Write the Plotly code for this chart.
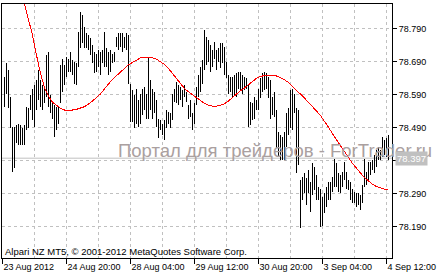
import plotly.graph_objects as go

highs = [
    78.642, 78.684, 78.664, 78.583, 78.492, 78.492, 78.497, 78.502, 78.497, 78.487,
    78.497, 78.553, 78.548, 78.588, 78.608, 78.618, 78.634, 78.664, 78.634, 78.618,
    78.608, 78.709, 78.719, 78.588, 78.563, 78.558, 78.553, 78.553, 78.679, 78.699,
    78.679, 78.704, 78.699, 78.719, 78.694, 78.689, 78.684, 78.780, 78.841, 78.831,
    78.795, 78.775, 78.770, 78.760, 78.740, 78.719, 78.714, 78.724, 78.719, 78.724,
    78.780, 78.730, 78.719, 78.724, 78.714, 78.719, 78.765, 78.775, 78.775, 78.775,
    78.765, 78.775, 78.770, 78.623, 78.603, 78.588, 78.608, 78.573, 78.593, 78.608,
    78.613, 78.593, 78.702, 78.634, 78.608, 78.598, 78.573, 78.517, 78.512, 78.502,
    78.512, 78.543, 78.538, 78.533, 78.593, 78.608, 78.629, 78.618, 78.613, 78.603,
    78.618, 78.598, 78.558, 78.573, 78.533, 78.563, 78.613, 78.649, 78.674, 78.694,
    78.785, 78.765, 78.755, 78.740, 78.724, 78.750, 78.724, 78.730, 78.745, 78.745,
    78.735, 78.689, 78.649, 78.644, 78.644, 78.649, 78.654, 78.659, 78.659, 78.649,
    78.644, 78.639, 78.623, 78.568, 78.563, 78.583, 78.573, 78.608, 78.639, 78.654,
    78.659, 78.654, 78.644, 78.634, 78.583, 78.598, 78.543, 78.477, 78.467, 78.462,
    78.477, 78.533, 78.548, 78.603, 78.608, 78.593, 78.548, 78.543, 78.331, 78.341,
    78.351, 78.336, 78.361, 78.326, 78.381, 78.371, 78.346, 78.310, 78.305, 78.280,
    78.290, 78.310, 78.326, 78.326, 78.341, 78.396, 78.381, 78.351, 78.346, 78.356,
    78.386, 78.356, 78.331, 78.326, 78.305, 78.295, 78.290, 78.290, 78.285, 78.315,
    78.396, 78.356, 78.386, 78.386, 78.391, 78.406, 78.421, 78.432, 78.421, 78.462,
    78.452, 78.457, 78.467,
]
lows = [
    78.553, 78.593, 78.548, 78.487, 78.356, 78.366, 78.442, 78.437, 78.437, 78.437,
    78.437, 78.482, 78.487, 78.543, 78.512, 78.492, 78.543, 78.573, 78.553, 78.543,
    78.563, 78.583, 78.553, 78.533, 78.517, 78.462, 78.482, 78.502, 78.563, 78.598,
    78.618, 78.644, 78.659, 78.659, 78.649, 78.623, 78.618, 78.674, 78.730, 78.745,
    78.730, 78.730, 78.724, 78.709, 78.684, 78.654, 78.659, 78.674, 78.649, 78.684,
    78.674, 78.674, 78.649, 78.659, 78.684, 78.689, 78.735, 78.724, 78.735, 78.719,
    78.730, 78.724, 78.623, 78.507, 78.507, 78.487, 78.502, 78.492, 78.502, 78.528,
    78.543, 78.517, 78.517, 78.543, 78.517, 78.533, 78.492, 78.457, 78.482, 78.467,
    78.452, 78.487, 78.502, 78.487, 78.512, 78.568, 78.563, 78.558, 78.573, 78.553,
    78.583, 78.568, 78.517, 78.522, 78.482, 78.502, 78.558, 78.583, 78.598, 78.623,
    78.664, 78.679, 78.689, 78.659, 78.674, 78.699, 78.664, 78.689, 78.669, 78.684,
    78.649, 78.639, 78.593, 78.598, 78.583, 78.588, 78.583, 78.608, 78.603, 78.593,
    78.603, 78.608, 78.492, 78.497, 78.512, 78.517, 78.543, 78.543, 78.578, 78.598,
    78.603, 78.608, 78.578, 78.517, 78.528, 78.522, 78.427, 78.401, 78.391, 78.391,
    78.391, 78.432, 78.467, 78.487, 78.482, 78.533, 78.351, 78.376, 78.184, 78.270,
    78.290, 78.255, 78.290, 78.235, 78.285, 78.300, 78.270, 78.270, 78.189, 78.191,
    78.230, 78.250, 78.270, 78.270, 78.295, 78.310, 78.310, 78.295, 78.290, 78.310,
    78.331, 78.305, 78.300, 78.270, 78.260, 78.260, 78.250, 78.255, 78.240, 78.260,
    78.310, 78.315, 78.331, 78.346, 78.361, 78.351, 78.371, 78.391, 78.391, 78.401,
    78.406, 78.401, 78.391,
]
ma_idx = [9, 10, 12, 14, 16, 18, 20, 22, 24, 26, 28, 30, 32, 34, 36, 38, 40, 42, 44, 46,
          48, 50, 52, 54, 56, 58, 60, 62, 64, 66, 68, 70, 72, 74, 76, 78, 80, 82, 84, 86,
          88, 90, 92, 94, 96, 98, 100, 102, 104, 106, 108, 110, 112, 114, 116, 118, 120,
          122, 124, 126, 128, 130, 132, 134, 136, 138, 140, 142, 144, 146, 148, 150, 152,
          154, 156, 158, 160, 162, 164, 166, 168, 170, 172, 174, 176, 178, 180, 182, 184,
          186, 188, 190, 192]
ma_val = [78.886, 78.861, 78.815, 78.770, 78.709, 78.654, 78.611, 78.585, 78.567, 78.556,
          78.548, 78.543, 78.542, 78.543, 78.545, 78.548, 78.553, 78.561, 78.570, 78.580,
          78.592, 78.608, 78.622, 78.636, 78.647, 78.660, 78.669, 78.680, 78.687, 78.695,
          78.701, 78.702, 78.702, 78.701, 78.697, 78.689, 78.681, 78.669, 78.653, 78.637,
          78.621, 78.608, 78.598, 78.589, 78.580, 78.571, 78.563, 78.558, 78.555, 78.555,
          78.557, 78.562, 78.570, 78.581, 78.592, 78.601, 78.610, 78.620, 78.628, 78.639,
          78.645, 78.648, 78.649, 78.648, 78.646, 78.641, 78.635, 78.626, 78.615, 78.605,
          78.591, 78.579, 78.567, 78.553, 78.540, 78.526, 78.510, 78.491, 78.471, 78.452,
          78.434, 78.416, 78.399, 78.381, 78.366, 78.351, 78.338, 78.328, 78.318, 78.311,
          78.306, 78.303, 78.302]

time_tick_idx = [-1, 31, 63, 95, 127, 159, 191]
time_tick_text = ["23 Aug 2012", "24 Aug 20:00", "28 Aug 04:00", "29 Aug 12:00",
                  "30 Aug 20:00", "3 Sep 04:00", "4 Sep 12:00"]
time_grid_idx = [15, 47, 79, 111, 143, 175]
price_ticks = [78.190, 78.290, 78.390, 78.490, 78.590, 78.690, 78.790]
price_text = ["78.190", "78.290", "", "78.490", "78.590", "78.690", "78.790"]
last_price = 78.397

FONT = "Liberation Sans"
GRID = "#c0c0c0"

bx, by = [], []
for i, (h, l) in enumerate(zip(highs, lows)):
    bx += [i, i, None]
    by += [l, h, None]

fig = go.Figure()
fig.add_trace(go.Scatter(x=bx, y=by, mode="lines", line=dict(color="black", width=1),
                         hoverinfo="skip", showlegend=False))
fig.add_trace(go.Scatter(x=ma_idx, y=ma_val, mode="lines", line=dict(color="#ff0000", width=1),
                         hoverinfo="skip", showlegend=False))

fig.add_shape(type="line", xref="paper", x0=0, x1=1, y0=last_price, y1=last_price,
              line=dict(color="#c0c0c0", width=1), layer="below")

fig.update_layout(
    width=440, height=280,
    margin=dict(l=2, r=48, t=4, b=22),
    paper_bgcolor="white", plot_bgcolor="white",
    showlegend=False,
    xaxis=dict(
        range=[-1.25, 193.75], tickmode="array", tickvals=time_tick_idx, ticktext=time_tick_text,
        ticks="outside", ticklen=5, tickcolor="black", tickwidth=1, tickangle=0,
        ticklabelposition="outside right", automargin=False,
        showline=True, linecolor="black", linewidth=1, mirror=True,
        showgrid=True, gridcolor=GRID, griddash="3px,3px", gridwidth=1, zeroline=False,
        tickfont=dict(family=FONT, size=9, color="black"),
        minor=dict(tickmode="array", tickvals=time_grid_idx, showgrid=True, gridcolor=GRID,
                   griddash="3px,3px", gridwidth=1, ticks=""),
    ),
    yaxis=dict(
        side="right", range=[78.0945, 78.8642], tickmode="array", tickvals=price_ticks,
        ticktext=price_text, ticks="outside", ticklen=4, tickcolor="black", tickwidth=1,
        automargin=False,
        showline=True, linecolor="black", linewidth=1, mirror=True,
        showgrid=True, gridcolor=GRID, griddash="3px,3px", gridwidth=1, zeroline=False,
        tickfont=dict(family=FONT, size=9, color="black"),
    ),
    annotations=[
        dict(text="Портал для трейдеров - ForTrader.ru", xref="paper", yref="paper",
             x=(116 - 2) / 390, y=(258 - 150) / 254, xanchor="left", yanchor="middle",
             showarrow=False, font=dict(family=FONT, size=18.5, color="#aaa0a0")),
        dict(text="78.397", xref="paper", yref="y", x=1, y=last_price, xanchor="left",
             yanchor="middle", xshift=3, showarrow=False, bgcolor="#c0c0c0", borderpad=1,
             font=dict(family=FONT, size=9.5, color="white")),
        dict(text="Alpari NZ MT5, © 2001-2012 MetaQuotes Software Corp.", xref="paper",
             yref="paper", x=(3 - 2) / 390, y=(258 - 251) / 254, xanchor="left",
             yanchor="middle", showarrow=False, font=dict(family=FONT, size=9.5, color="black")),
    ],
)

crisp_js = ("document.querySelectorAll('.scatterlayer path.js-line')"
            ".forEach(function(p){p.style.shapeRendering='crispEdges';});")
fig.write_html("out.html", post_script=crisp_js)
